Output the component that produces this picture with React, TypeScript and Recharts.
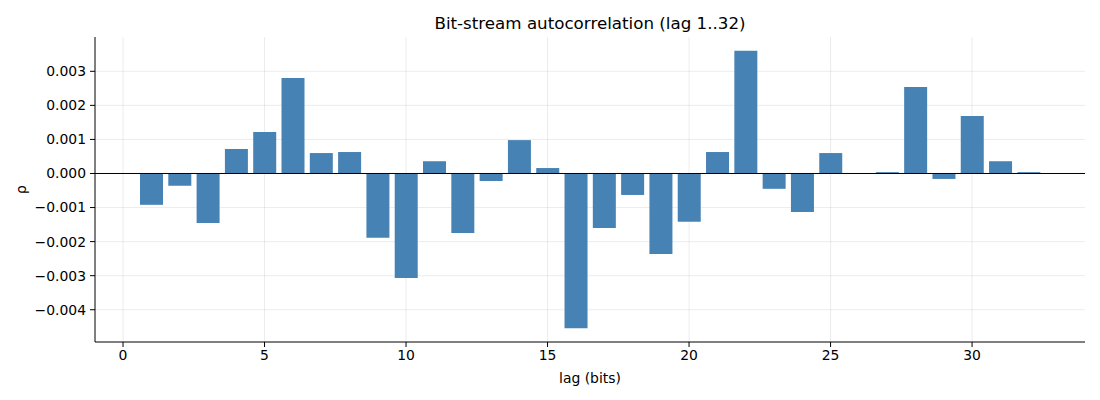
import React from "react";
import {
  BarChart,
  Bar,
  CartesianGrid,
  XAxis,
  YAxis,
  ReferenceLine,
  Label,
} from "recharts";

// lag values 1..32 and estimated autocorrelation
const lags = [
  1, 2, 3, 4, 5, 6, 7, 8, 9, 10, 11, 12, 13, 14, 15, 16,
  17, 18, 19, 20, 21, 22, 23, 24, 25, 26, 27, 28, 29, 30, 31, 32,
];
const rho = [
  -0.00092, -0.00036, -0.00145, 0.00072, 0.00122, 0.0028, 0.0006, 0.00063,
  -0.00189, -0.00307, 0.00036, -0.00175, -0.00022, 0.00098, 0.00016, -0.00454,
  -0.0016, -0.00063, -0.00236, -0.00142, 0.00063, 0.0036, -0.00045, -0.00113,
  0.0006, 0.0, 0.00004, 0.00254, -0.00016, 0.00169, 0.00036, 0.00004,
];
const xTicks = [0, 5, 10, 15, 20, 25, 30];
const yTicks = [-0.004, -0.003, -0.002, -0.001, 0, 0.001, 0.002, 0.003];

const data = lags.map((lag, i) => ({ lag, rho: rho[i] }));

const FONT = "'DejaVu Sans', sans-serif";

// matplotlib style: 3 decimals and a real minus sign
const fmtY = (v: number) => v.toFixed(3).replace("-", "\u2212");

const App: React.FC = () => {
  return (
    <div
      style={{
        position: "absolute",
        left: 0,
        top: 0,
        width: 1100,
        height: 400,
        background: "#fff",
        fontFamily: FONT,
      }}
    >
      {/* Title */}
      <div
        style={{
          position: "absolute",
          left: 95,
          width: 990,
          top: 13,
          textAlign: "center",
          fontSize: 16.7,
          lineHeight: "20px",
          color: "#000",
        }}
      >
        Bit-stream autocorrelation (lag 1..32)
      </div>
      <BarChart
        width={1100}
        height={400}
        data={data}
        margin={{ top: 37, right: 15, bottom: 0, left: 15 }}
        barCategoryGap="10%"
        style={{ fontFamily: FONT }}
      >
        <XAxis
          dataKey="lag"
          type="number"
          domain={[-0.99, 33.99]}
          ticks={xTicks}
          allowDataOverflow
          height={58}
          tickSize={5}
          tickMargin={3}
          stroke="#000"
          tick={{ fill: "#000", fontSize: 13.9 }}
        >
          <Label
            value="lag (bits)"
            position="insideBottom"
            offset={17}
            style={{ fill: "#000", fontSize: 13.9 }}
          />
        </XAxis>
        <YAxis
          type="number"
          domain={[-0.004947, 0.004007]}
          ticks={yTicks}
          allowDataOverflow
          width={80}
          tickSize={5}
          tickMargin={4}
          tickFormatter={fmtY}
          stroke="#000"
          tick={{ fill: "#000", fontSize: 13.9 }}
        >
          <Label
            value="ρ"
            angle={-90}
            position="insideLeft"
            offset={6}
            style={{ fill: "#000", fontSize: 13.9, textAnchor: "middle" }}
          />
        </YAxis>
        <Bar dataKey="rho" fill="#4682b4" isAnimationActive={false} />
        <CartesianGrid
          stroke="#b0b0b0"
          strokeOpacity={0.3}
          strokeWidth={0.8}
          verticalValues={xTicks}
          horizontalValues={yTicks}
        />
        <ReferenceLine y={0} stroke="#000" strokeWidth={1} />
      </BarChart>
    </div>
  );
};

export default App;
